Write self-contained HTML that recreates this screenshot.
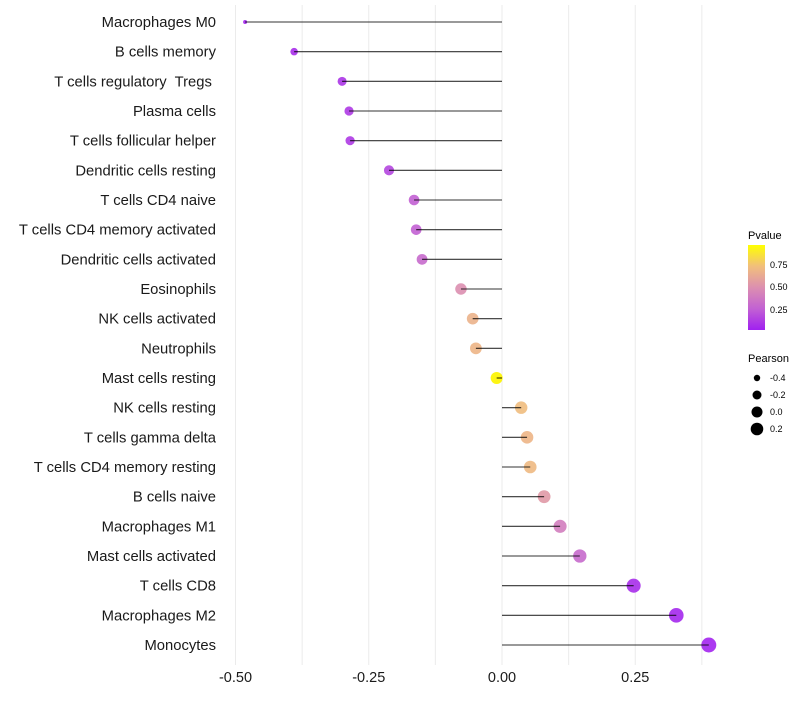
<!DOCTYPE html>
<html><head><meta charset="utf-8"><style>
body{margin:0;background:#fff;}
svg text{font-family:"Liberation Sans",sans-serif;white-space:pre;}
</style></head><body>
<svg id="chart" width="800" height="700" xmlns="http://www.w3.org/2000/svg">
<g id="grid"></g>
<g id="marks"></g>
<g id="ylabels"></g>
<g id="xlabels"></g>
<g id="legend">
<defs><linearGradient id="pg" x1="0" y1="1" x2="0" y2="0">
<stop offset="0" stop-color="#a020f0"/><stop offset="0.25" stop-color="#c261d3"/><stop offset="0.5" stop-color="#dc8fb0"/><stop offset="0.75" stop-color="#f1bf7c"/><stop offset="1" stop-color="#ffff00"/></linearGradient></defs>
<text x="748" y="239" font-size="11">Pvalue</text>
<rect x="748" y="245" width="17" height="85" fill="url(#pg)"/>
<text x="770" y="268" font-size="9">0.75</text>
<text x="770" y="290" font-size="9">0.50</text>
<text x="770" y="313" font-size="9">0.25</text>
<text x="748" y="362" font-size="11">Pearson</text>
<circle cx="757" cy="378" r="3.2" fill="#000"/>
<text x="770" y="381" font-size="9">-0.4</text>
<circle cx="757" cy="395" r="4.5" fill="#000"/>
<text x="770" y="398" font-size="9">-0.2</text>
<circle cx="757" cy="412" r="5.5" fill="#000"/>
<text x="770" y="415" font-size="9">0.0</text>
<circle cx="757" cy="429" r="6.3" fill="#000"/>
<text x="770" y="432" font-size="9">0.2</text>
</g>
</svg>
<script>
const categories=["Macrophages M0","B cells memory","T cells regulatory  Tregs ","Plasma cells","T cells follicular helper","Dendritic cells resting","T cells CD4 naive","T cells CD4 memory activated","Dendritic cells activated","Eosinophils","NK cells activated","Neutrophils","Mast cells resting","NK cells resting","T cells gamma delta","T cells CD4 memory resting","B cells naive","Macrophages M1","Mast cells activated","T cells CD8","Macrophages M2","Monocytes"];
const pearson=[-0.482,-0.390,-0.300,-0.287,-0.285,-0.212,-0.165,-0.161,-0.150,-0.077,-0.055,-0.049,-0.010,0.036,0.047,0.053,0.079,0.109,0.146,0.247,0.327,0.388];
const pvalues=[0.02,0.05,0.08,0.1,0.1,0.15,0.25,0.25,0.3,0.5,0.68,0.7,0.96,0.74,0.7,0.72,0.55,0.4,0.3,0.05,0.03,0.02];
const xTicks=[-0.5,-0.25,0,0.25];
const xTickLabels=["-0.50","-0.25","0.00","0.25"];
const xGrid=[-0.5,-0.375,-0.25,-0.125,0,0.125,0.25,0.375];
const NS="http://www.w3.org/2000/svg";
const X=v=>502+v*533;
const Y=i=>22+i*(623/(categories.length-1));
function col(p){const s=[[0,[160,32,240]],[0.25,[194,97,211]],[0.5,[220,143,176]],[0.75,[241,191,124]],[1,[255,255,0]]];
 for(let k=0;k<s.length-1;k++){if(p<=s[k+1][0]){const t=(p-s[k][0])/(s[k+1][0]-s[k][0]);const c=s[k][1].map((a,j)=>Math.round(a+(s[k+1][1][j]-a)*t));return`rgb(${c})`;}}return"rgb(255,255,0)";}
const R=v=>2+5.5*Math.sqrt(Math.max(0,(v+0.48)/0.87));
function mk(t,a,p){const e=document.createElementNS(NS,t);for(const k in a)e.setAttribute(k,a[k]);p.appendChild(e);return e;}
const g=document.getElementById('grid'),m=document.getElementById('marks'),yl=document.getElementById('ylabels'),xl=document.getElementById('xlabels');
xGrid.forEach(v=>{const l=mk('line',{x1:X(v),x2:X(v),y1:5,y2:665,stroke:'#ebebeb','stroke-width':1},g);

});
categories.forEach((c,i)=>{
 const y=Y(i);
 const ci=mk('circle',{cx:X(pearson[i]),cy:y,r:R(pearson[i]),fill:col(pvalues[i]),'fill-opacity':pvalues[i]>0.9?1:0.9},m);
 
 
 const ln=mk('line',{x1:X(0),x2:X(pearson[i]),y1:y,y2:y,stroke:'#000','stroke-width':1.1,'stroke-opacity':0.8},m);
 
 
 const t=mk('text',{x:216,y:y+5,'text-anchor':'end','font-size':14.8,fill:'#1a1a1a'},yl);
 t.textContent=c;
 
 
});
xTicks.forEach((v,i)=>{const t=mk('text',{x:X(v),y:682,'text-anchor':'middle','font-size':14.5,fill:'#1a1a1a'},xl);
t.textContent=xTickLabels[i];

});
</script>
</body></html>
